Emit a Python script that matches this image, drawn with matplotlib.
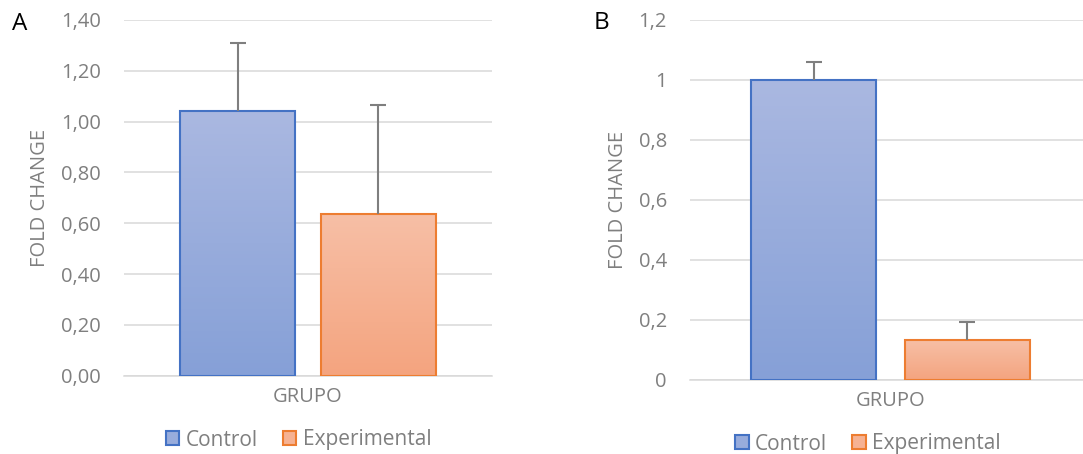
import numpy as np
import matplotlib
matplotlib.use("Agg")
import matplotlib.pyplot as plt
from matplotlib.patches import Patch
from matplotlib.ticker import FuncFormatter, MultipleLocator

plt.rcParams['font.family'] = ['Open Sans', 'DejaVu Sans']

# data
groups = ["Control", "Experimental"]
category = "GRUPO"
a_means = [1.04, 0.635]
a_err = [0.27, 0.43]
b_means = [1.0, 0.133]
b_err = [0.06, 0.06]

gray = "#7F7F7F"
grid_col = "#D9D9D9"
edges = ["#4472C4", "#ED7D31"]
tops = ["#AAB8E1", "#F7BFA6"]
bottoms = ["#86A0D7", "#F4A47F"]
mids = ["#98ACDC", "#F6B293"]

fig = plt.figure(figsize=(10.83, 4.54), dpi=100)
axA = fig.add_axes([0.1145, 0.1725, 0.3398, 0.7835])
axB = fig.add_axes([0.637, 0.163, 0.3707, 0.793])

width = 0.31
offset = 0.1915


def gradient_bar(ax, x, h, top, bottom, edge):
    bar = ax.bar(x, h, width=width, facecolor="none", edgecolor=edge,
                 linewidth=1.5, zorder=3)[0]
    c1 = np.array(matplotlib.colors.to_rgb(top))
    c2 = np.array(matplotlib.colors.to_rgb(bottom))
    t = np.linspace(0, 1, 100)[:, None]
    img = (c1 * (1 - t) + c2 * t)[:, None, :]
    im = ax.imshow(img, extent=[x - width / 2, x + width / 2, 0, h],
                   aspect="auto", origin="upper", zorder=2.5)
    im.set_clip_path(bar)


def panel(ax, means, errs, ymax, step, fmt):
    xs = [-offset, offset]
    for i in range(2):
        gradient_bar(ax, xs[i], means[i], tops[i], bottoms[i], edges[i])
    _, caps, _ = ax.errorbar(xs, means, yerr=[np.zeros(2), errs], fmt="none",
                             ecolor=gray, elinewidth=1.5, capsize=5.5,
                             capthick=1.5, zorder=4)
    # only the plus side is shown
    for c in caps:
        if np.allclose(c.get_ydata(), means):
            c.set_visible(False)
    ax.set_xlim(-0.5, 0.5)
    ax.set_ylim(0, ymax)
    ax.yaxis.set_major_locator(MultipleLocator(step))
    ax.yaxis.set_major_formatter(FuncFormatter(fmt))
    ax.grid(axis="y", color=grid_col, linewidth=1.1)
    ax.set_axisbelow(True)
    for s in ["top", "right", "left"]:
        ax.spines[s].set_visible(False)
    ax.spines["bottom"].set_color(grid_col)
    ax.spines["bottom"].set_linewidth(1.1)
    ax.set_xticks([0])
    ax.set_xticklabels([category])
    ax.tick_params(axis="y", length=0, pad=16.5, labelsize=14.5, labelcolor=gray)
    ax.tick_params(axis="x", length=0, pad=8, labelsize=14.5, labelcolor=gray)
    ax.set_ylabel("FOLD CHANGE", fontsize=14.5, color=gray)


panel(axA, a_means, a_err, 1.4, 0.2, lambda v, p: f"{v:.2f}".replace(".", ","))
panel(axB, b_means, b_err, 1.2, 0.2,
      lambda v, p: f"{v:.1f}".rstrip("0").rstrip(".").replace(".", ","))

axA.yaxis.set_label_coords((50 - 124) / 368.0, 0.5)
axB.yaxis.set_label_coords((628 - 690) / 401.5, 0.5)

fig.text(20 / 1083, 1 - 24 / 454, "A", fontsize=17.5, ha="center", va="center", color="black")
fig.text(601 / 1083, 1 - 23 / 454, "B", fontsize=17.5, ha="center", va="center", color="black")

handles = [Patch(facecolor=mids[i], edgecolor=edges[i], linewidth=1.5, label=groups[i])
           for i in range(2)]
for cx, cy in [(298.5 / 1083, 1 - 440 / 454), (868 / 1083, 1 - 444 / 454)]:
    fig.legend(handles=handles, loc="center", bbox_to_anchor=(cx, cy), ncol=2,
               frameon=False, fontsize=15, labelcolor=gray, handlelength=0.65,
               handleheight=0.65, handletextpad=0.3, columnspacing=1.2,
               borderpad=0, borderaxespad=0)

fig.savefig("out.png", dpi=100)
